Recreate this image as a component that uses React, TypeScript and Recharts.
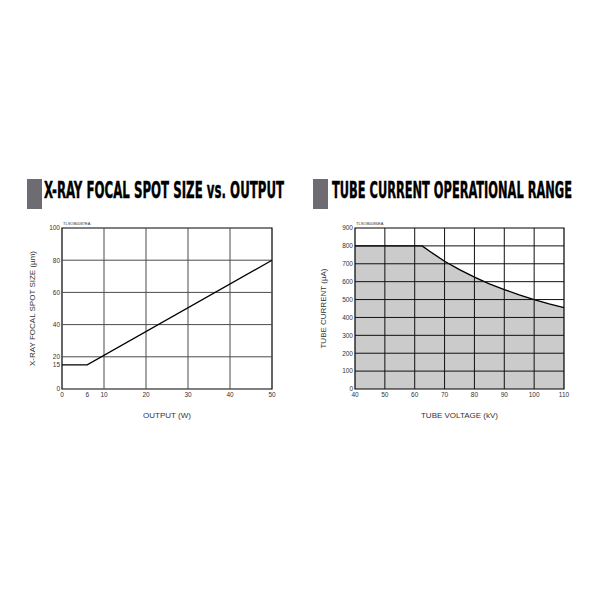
import {
  LineChart,
  Line,
  ComposedChart,
  Area,
  XAxis,
  YAxis,
  ReferenceLine,
  ReferenceArea,
} from "recharts";

// X-ray focal spot size vs. output
const outputW = [0, 6, 50];
const spotUm = [15, 15, 80];
const spotXTicks = [0, 6, 10, 20, 30, 40, 50];
const spotYTicks = [0, 15, 20, 40, 60, 80, 100];
const spotXGrid = [10, 20, 30, 40];
const spotYGrid = [20, 40, 60, 80];

// tube current operational range
const voltageKv = [40, 62.5, 65, 70, 75, 80, 85, 90, 95, 100, 105, 110];
const currentUa = [800, 800, 770, 714, 667, 625, 588, 556, 526, 500, 476, 455];
const voltXTicks = [40, 50, 60, 70, 80, 90, 100, 110];
const currYTicks = [0, 100, 200, 300, 400, 500, 600, 700, 800, 900];

const FONT = "'Liberation Sans', Arial, sans-serif";
const tickStyle = { fontSize: 6.5, fill: "#333", fontFamily: FONT };
const labelStyle = { fontSize: 8, fill: "#333", fontFamily: FONT, textAnchor: "middle" as const };
const GRID = "#4a4a4a";
const TITLE_FONT = "'DejaVu Sans Condensed', 'DejaVu Sans', sans-serif";

const spotData = outputW.map((x, i) => ({ x, y: spotUm[i] }));
const tubeData = voltageKv.map((v, i) => ({ v, c: currentUa[i] }));

function Titles() {
  return (
    <svg width={600} height={600} style={{ position: "absolute", left: 0, top: 0, pointerEvents: "none" }}>
      <rect x={27} y={179} width={15} height={30} fill="#6c6c72" />
      <text
        x={44}
        y={198}
        textLength={240}
        lengthAdjust="spacingAndGlyphs"
        fontFamily={TITLE_FONT}
        fontWeight="bold"
        fontSize={23}
        fill="#000"
        stroke="#000"
        strokeWidth={0.4}
      >
        X-RAY FOCAL SPOT SIZE vs. OUTPUT
      </text>
      <rect x={313} y={179} width={15} height={30} fill="#6c6c72" />
      <text
        x={332}
        y={198}
        textLength={240}
        lengthAdjust="spacingAndGlyphs"
        fontFamily={TITLE_FONT}
        fontWeight="bold"
        fontSize={23}
        fill="#000"
        stroke="#000"
        strokeWidth={0.4}
      >
        TUBE CURRENT OPERATIONAL RANGE
      </text>
      <text x={63} y={225} fontSize={4} fontFamily={FONT} fill="#333">TLSOB0087EA</text>
      <text x={356} y={225} fontSize={4} fontFamily={FONT} fill="#333">TLSOB0086EA</text>
    </svg>
  );
}

export default function App() {
  return (
    <div style={{ position: "absolute", left: 0, top: 0, width: 600, height: 600, background: "#fff" }}>
      <div style={{ position: "absolute", left: 0, top: 215 }}>
        <LineChart width={290} height={210} data={spotData} margin={{ top: 13, right: 18, bottom: 6, left: 32 }}>
          <XAxis
            dataKey="x"
            type="number"
            domain={[0, 50]}
            ticks={spotXTicks}
            interval={0}
            tickLine={false}
            axisLine={false}
            tickSize={0}
            tickMargin={3}
            tick={tickStyle}
            height={30}
            label={{ value: "OUTPUT (W)", position: "insideBottom", offset: 1, fill: "#333", style: labelStyle }}
          />
          <YAxis
            type="number"
            domain={[0, 100]}
            ticks={spotYTicks}
            interval={0}
            tickLine={false}
            axisLine={false}
            tickSize={0}
            tickMargin={2}
            tick={tickStyle}
            width={30}
            label={{ value: "X-RAY FOCAL SPOT SIZE (µm)", angle: -90, position: "insideLeft", offset: 0, fill: "#333", style: labelStyle }}
          />
          {spotXGrid.map((v) => (
            <ReferenceLine key={"vx" + v} x={v} stroke={GRID} strokeWidth={1} />
          ))}
          {spotYGrid.map((v) => (
            <ReferenceLine key={"hy" + v} y={v} stroke={GRID} strokeWidth={1} />
          ))}
          <ReferenceArea x1={0} x2={50} y1={0} y2={100} fill="none" stroke="#000" strokeWidth={1.2} />
          <Line dataKey="y" type="linear" stroke="#000" strokeWidth={1.3} dot={false} isAnimationActive={false} />
        </LineChart>
      </div>
      <div style={{ position: "absolute", left: 300, top: 215 }}>
        <ComposedChart width={290} height={210} data={tubeData} margin={{ top: 13, right: 26, bottom: 6, left: 23 }}>
          <XAxis
            dataKey="v"
            type="number"
            domain={[40, 110]}
            ticks={voltXTicks}
            interval={0}
            tickLine={false}
            axisLine={false}
            tickSize={0}
            tickMargin={3}
            tick={tickStyle}
            height={30}
            label={{ value: "TUBE VOLTAGE (kV)", position: "insideBottom", offset: 1, fill: "#333", style: labelStyle }}
          />
          <YAxis
            type="number"
            domain={[0, 900]}
            ticks={currYTicks}
            interval={0}
            tickLine={false}
            axisLine={false}
            tickSize={0}
            tickMargin={2}
            tick={tickStyle}
            width={32}
            label={{ value: "TUBE CURRENT (µA)", angle: -90, position: "insideLeft", offset: 0, fill: "#333", style: labelStyle }}
          />
          <Area
            dataKey="c"
            type="linear"
            fill="#cbcbcb"
            fillOpacity={1}
            stroke="#000"
            strokeWidth={1.4}
            dot={false}
            activeDot={false}
            isAnimationActive={false}
          />
          {voltXTicks.slice(1, -1).map((v) => (
            <ReferenceLine key={"vx" + v} x={v} stroke="#111" strokeWidth={1} />
          ))}
          {currYTicks.slice(1, -1).map((v) => (
            <ReferenceLine key={"hy" + v} y={v} stroke="#111" strokeWidth={1} />
          ))}
          <ReferenceArea x1={40} x2={110} y1={0} y2={900} fill="none" stroke="#000" strokeWidth={1.2} />
        </ComposedChart>
      </div>
      <Titles />
    </div>
  );
}
